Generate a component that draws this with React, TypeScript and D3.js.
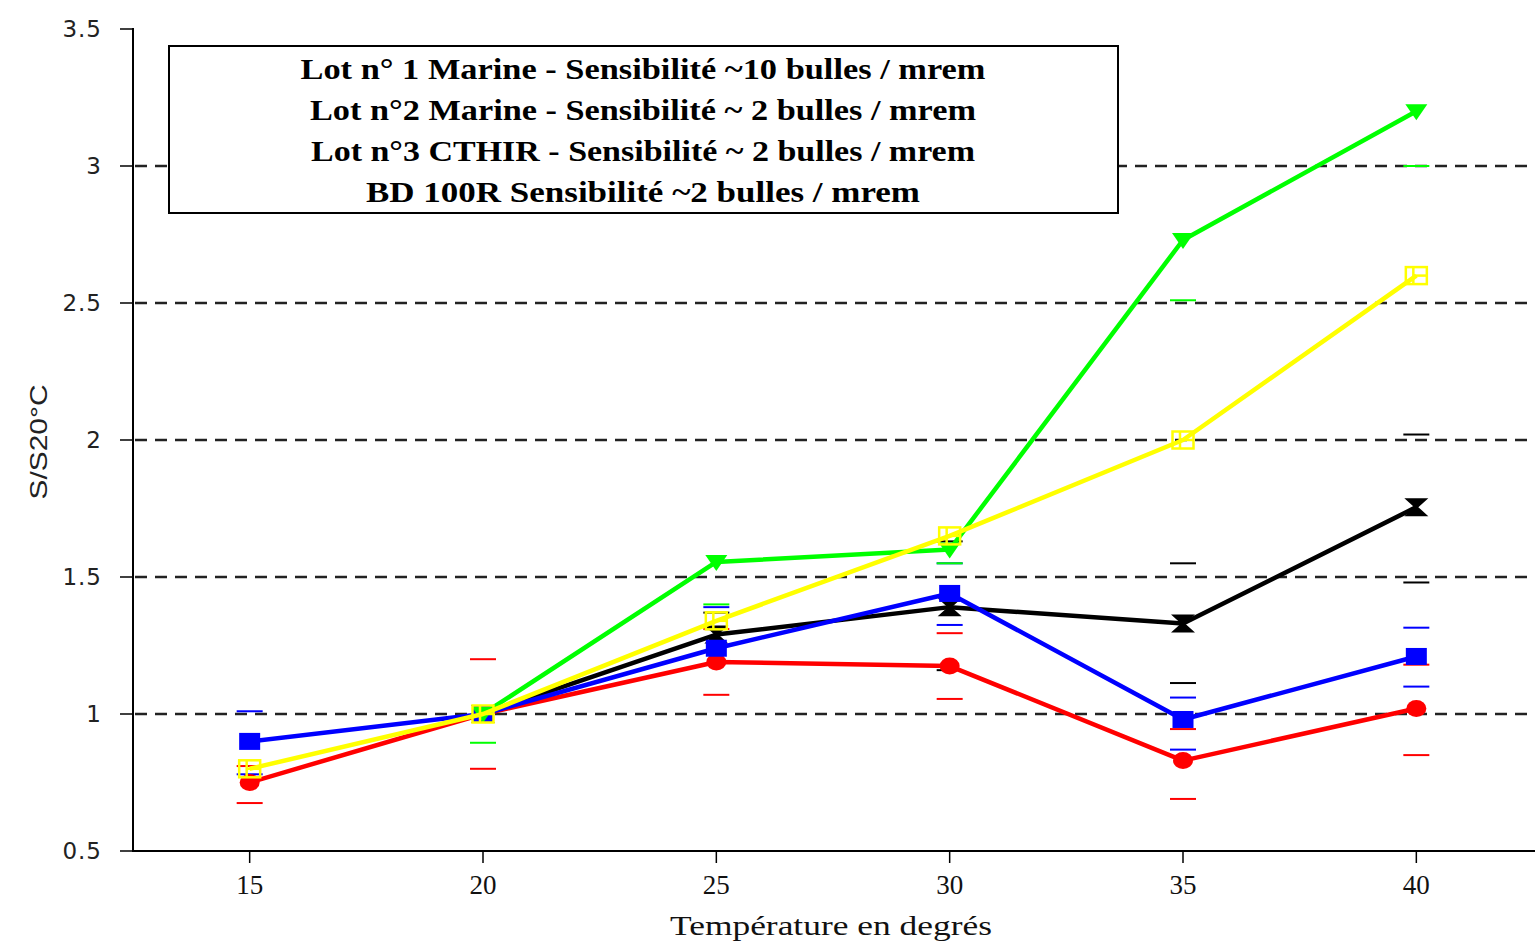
import React from "react";
import * as d3 from "d3";

const temps = [15, 20, 25, 30, 35, 40];
const xTicks = [15, 20, 25, 30, 35, 40];
const yTicks = [0.5, 1, 1.5, 2, 2.5, 3, 3.5];
const gridValues = [1, 1.5, 2, 2.5, 3];

const redValues = [0.75, 1.0, 1.19, 1.175, 0.83, 1.02];
const blueValues = [0.9, 1.0, 1.24, 1.44, 0.98, 1.21];
const blackValues = [NaN, 1.0, 1.29, 1.39, 1.33, 1.755];
const greenValues = [NaN, 1.0, 1.555, 1.6, 2.73, 3.2];
const yellowValues = [0.8, 1.0, 1.34, 1.65, 2.0, 2.6];

const redLow = [0.675, 0.8, 1.07, 1.055, 0.69, 0.85];
const redHigh = [0.81, 1.2, 1.31, 1.295, 0.945, 1.18];
const blueLow = [0.78, NaN, NaN, 1.325, 0.87, 1.1];
const blueHigh = [1.01, NaN, 1.39, 1.55, 1.06, 1.315];
const blackLow = [NaN, NaN, NaN, 1.16, 1.113, 1.48];
const blackHigh = [NaN, NaN, 1.37, 1.63, 1.55, 2.02];
const greenLow = [NaN, 0.895, 1.4, 1.55, 2.51, 3.0];
const greenHigh = [NaN, NaN, NaN, NaN, NaN, NaN];
const yellowLow = [NaN, NaN, NaN, NaN, NaN, NaN];
const yellowHigh = [NaN, NaN, NaN, NaN, NaN, NaN];

const legendLines = [
  "Lot n° 1 Marine - Sensibilité ~10 bulles / mrem",
  "Lot n°2 Marine - Sensibilité ~ 2 bulles / mrem",
  "Lot n°3 CTHIR - Sensibilité ~ 2 bulles / mrem",
  "BD 100R Sensibilité ~2 bulles / mrem",
];
const legendWidths = [685, 666, 664, 554];

type Series = {
  name: string;
  color: string;
  values: number[];
  low: number[];
  high: number[];
  marker: "circle" | "square" | "hourglass" | "triangle" | "boxcross";
};

const series: Series[] = [
  { name: "red", color: "#ff0000", values: redValues, low: redLow, high: redHigh, marker: "circle" },
  { name: "black", color: "#000000", values: blackValues, low: blackLow, high: blackHigh, marker: "hourglass" },
  { name: "blue", color: "#0000ff", values: blueValues, low: blueLow, high: blueHigh, marker: "square" },
  { name: "green", color: "#00ff00", values: greenValues, low: greenLow, high: greenHigh, marker: "triangle" },
  { name: "yellow", color: "#ffff00", values: yellowValues, low: yellowLow, high: yellowHigh, marker: "boxcross" },
];

const W = 1539;
const H = 949;

export default function App() {
  const x = d3.scaleLinear().domain([12.5, 42.5]).range([133, 1533]);
  const y = d3.scaleLinear().domain([0.5, 3.5]).range([851, 29]);

  const line = d3
    .line<number>()
    .defined((d) => !isNaN(d))
    .x((_, i) => x(temps[i]))
    .y((d) => y(d));

  const marker = (s: Series, cx: number, cy: number, key: string) => {
    const c = s.color;
    switch (s.marker) {
      case "circle":
        return <ellipse key={key} cx={cx} cy={cy} rx={10} ry={8.5} fill={c} />;
      case "square":
        return <rect key={key} x={cx - 10.5} y={cy - 8.5} width={21} height={17} fill={c} />;
      case "hourglass":
        return (
          <path
            key={key}
            transform={`translate(${cx},${cy})`}
            d="M-12,-9 L12,-9 L2,0 L12,9 L-12,9 L-2,0 Z"
            fill={c}
          />
        );
      case "triangle":
        return (
          <path key={key} transform={`translate(${cx},${cy})`} d="M-11,-7 L11,-7 L0,9 Z" fill={c} />
        );
      case "boxcross":
        return (
          <g key={key} transform={`translate(${cx},${cy})`} stroke={c} strokeWidth={2.5} fill="none">
            <rect x={-10.5} y={-8.5} width={21} height={17} />
            <line x1={-3} y1={-8} x2={-3} y2={8} />
            <line x1={-3} y1={0} x2={10} y2={0} />
          </g>
        );
    }
  };

  return (
    <svg
      width={W}
      height={H}
      style={{ position: "absolute", left: 0, top: 0, background: "#fff" }}
    >
      <rect x={0} y={0} width={W} height={H} fill="#fff" />
      {/* grid */}
      {gridValues.map((v) => (
        <line
          key={v}
          x1={135}
          x2={1535}
          y1={y(v)}
          y2={y(v)}
          stroke="#222"
          strokeWidth={2.5}
          strokeDasharray="12 8"
        />
      ))}
      {/* legend box */}
      <rect x={169} y={46} width={949} height={167} fill="#fff" stroke="#000" strokeWidth={2} />
      {legendLines.map((t, i) => (
        <text
          key={i}
          x={643}
          y={79 + i * 41}
          textAnchor="middle"
          fontFamily="'Liberation Serif', 'DejaVu Serif', serif"
          fontWeight="bold"
          fontSize={30}
          textLength={legendWidths[i]}
          lengthAdjust="spacingAndGlyphs"
          fill="#000"
        >
          {t}
        </text>
      ))}
      {/* error bars */}
      {series.map((s) =>
        temps.map((t, i) => (
          <g key={s.name + "e" + i} stroke={s.color} strokeWidth={2}>
            {!isNaN(s.low[i]) && (
              <line x1={x(t) - 13} x2={x(t) + 13} y1={y(s.low[i])} y2={y(s.low[i])} />
            )}
            {!isNaN(s.high[i]) && (
              <line x1={x(t) - 13} x2={x(t) + 13} y1={y(s.high[i])} y2={y(s.high[i])} />
            )}
          </g>
        ))
      )}
      {/* lines and markers */}
      {series.map((s) => (
        <g key={s.name}>
          <path d={line(s.values) || ""} fill="none" stroke={s.color} strokeWidth={4.5} strokeLinejoin="round" />
          {s.values.map((v, i) => (isNaN(v) ? null : marker(s, x(temps[i]), y(v), s.name + i)))}
        </g>
      ))}
      {/* axes */}
      <line x1={133} x2={133} y1={28} y2={852} stroke="#000" strokeWidth={2} />
      <line x1={132} x2={1535} y1={851} y2={851} stroke="#000" strokeWidth={2} />
      {yTicks.map((v) => (
        <g key={v}>
          <line x1={120} x2={133} y1={y(v)} y2={y(v)} stroke="#000" strokeWidth={1.5} />
          <text
            x={102}
            y={y(v) + 8}
            textAnchor="end"
            fontFamily="'DejaVu Sans', sans-serif"
            fontSize={23}
            letterSpacing={1}
            fill="#222"
          >
            {v}
          </text>
        </g>
      ))}
      {xTicks.map((v) => (
        <g key={v}>
          <line x1={x(v)} x2={x(v)} y1={851} y2={863} stroke="#000" strokeWidth={1.5} />
          <text
            x={x(v)}
            y={894}
            textAnchor="middle"
            fontFamily="'Liberation Serif', serif"
            fontSize={27}
            fill="#111"
          >
            {v}
          </text>
        </g>
      ))}
      <text
        x={831}
        y={935}
        textAnchor="middle"
        fontFamily="'Liberation Serif', serif"
        fontSize={28}
        textLength={322}
        lengthAdjust="spacingAndGlyphs"
        fill="#111"
      >
        Température en degrés
      </text>
      <text
        transform={`translate(47,442) rotate(-90)`}
        textAnchor="middle"
        fontFamily="'Liberation Sans', sans-serif"
        fontSize={24}
        textLength={115}
        lengthAdjust="spacingAndGlyphs"
        fill="#222"
      >
        S/S20°C
      </text>
    </svg>
  );
}
